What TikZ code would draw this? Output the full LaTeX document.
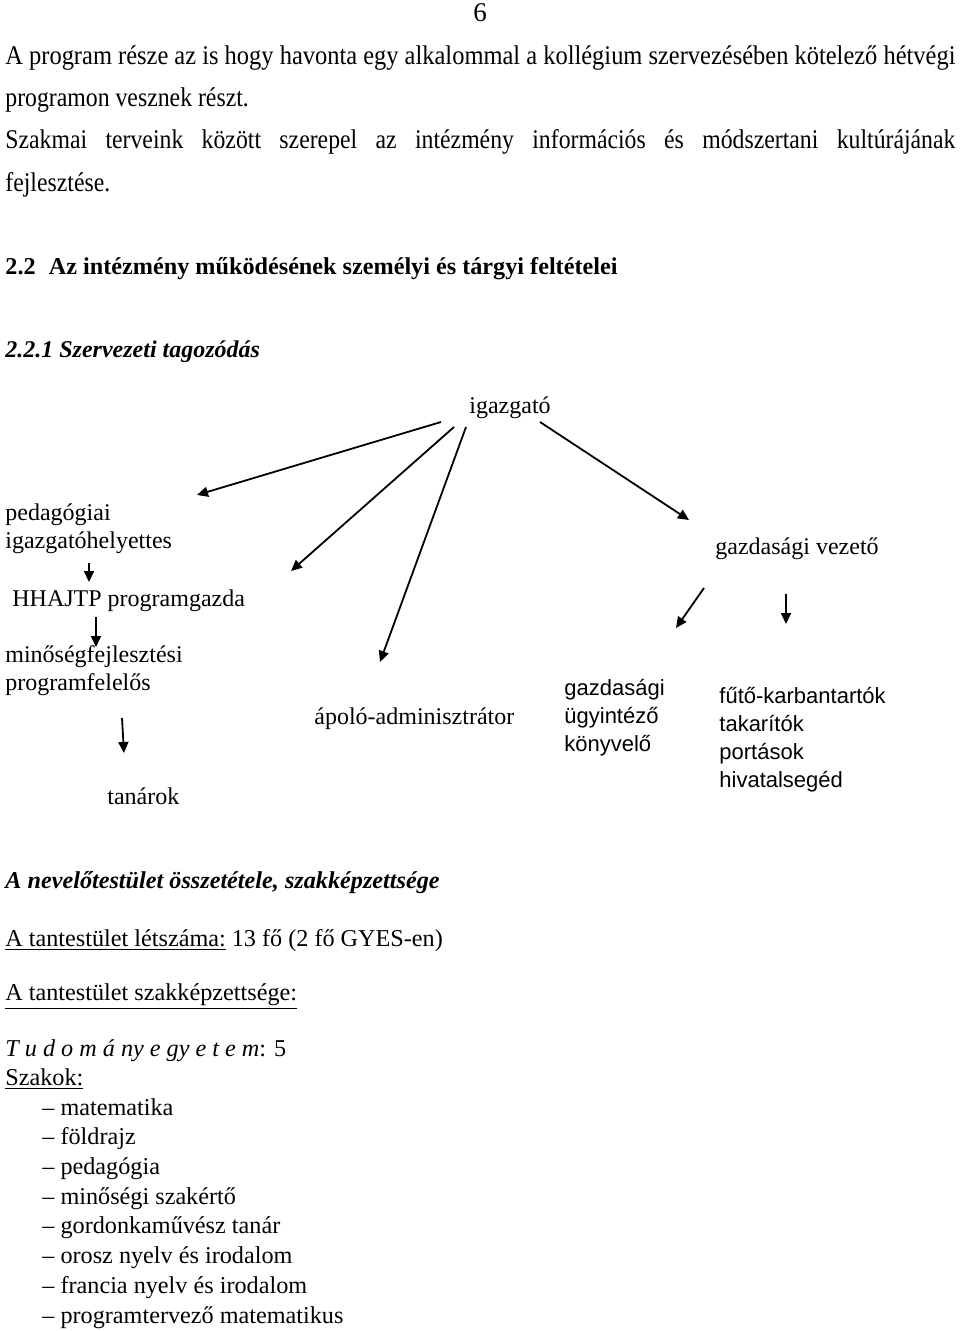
\documentclass[tikz,border=0pt]{standalone}
\usepackage{fontspec}
\setmainfont{Liberation Serif}
\setsansfont{Liberation Sans}
\usetikzlibrary{arrows.meta}

\begin{document}
\begin{tikzpicture}[x=0.5pt,y=-0.5pt]
 \tikzstyle{arrow} = [-{Triangle[length=5.5pt,width=5pt]},line width=0.9pt];
 \tikzstyle{pagetext} = [inner sep=0pt,anchor=base west,font=\fontsize{13.5}{21}\selectfont];
 \tikzstyle{bodytext} = [inner sep=0pt,anchor=base west,align=left,font=\fontsize{12.1}{14.85}\selectfont];
 \tikzstyle{post}   = [inner sep=0pt,anchor=base west,align=left,font=\fontsize{12}{14}\selectfont];
 \tikzstyle{postsf} = [post,font=\sffamily\fontsize{11}{14}\selectfont];

 \useasboundingbox (0,0) rectangle (960,1331);

 %% page text
 \node[pagetext,anchor=base] (pagenum) at (480,22) {6};
 \node[pagetext] (par1a) at (5,65) {\resizebox{475pt}{\height}{A program része az is hogy havonta egy alkalommal a kollégium szervezésében kötelező hétvégi}};
 \node[pagetext] (par1b) at (5,107) {\scalebox{0.88}[1]{programon vesznek részt.}};
 \node[pagetext] (par2a) at (5,149) {\resizebox{475pt}{\height}{\makebox[540pt][s]{Szakmai terveink között szerepel az intézmény információs és módszertani kultúrájának}}};
 \node[pagetext] (par2b) at (5,192) {\scalebox{0.88}[1]{fejlesztése.}};
 \node[bodytext,font=\bfseries\fontsize{12.1}{14}\selectfont] (sec22) at (5,275) {2.2\hspace{0.55em}Az intézmény működésének személyi és tárgyi feltételei};
 \node[bodytext,font=\bfseries\itshape\fontsize{12}{14}\selectfont] (sec221) at (5,358) {2.2.1 Szervezeti tagozódás};

 %% organisation chart (multi-line nodes sit on their last line)
 \node[post] (igazgato) at (469,414) {igazgató};
 \node[post] (pedhely) at (5,548) {pedagógiai\\igazgatóhelyettes};
 \node[post] (hhajtp) at (12,606) {HHAJTP programgazda};
 \node[post] (minoseg) at (5,690) {minőségfejlesztési\\programfelelős};
 \node[post] (tanarok) at (107,804) {tanárok};
 \node[post] (apolo) at (314,724) {ápoló-adminisztrátor};
 \node[post] (gazdvez) at (715,554) {gazdasági vezető};
 \node[postsf] (gazdugy) at (564,751) {gazdasági\\ügyintéző\\könyvelő};
 \node[postsf] (futo) at (719,787) {fűtő-karbantartók\\takarítók\\portások\\hivatalsegéd};

 \coordinate (igL1) at (441,422);  \coordinate (pedT) at (197,495);
 \coordinate (igL2) at (454,427);  \coordinate (hhT) at (291,571);
 \coordinate (igL3) at (466,427);  \coordinate (apT) at (380,662);
 \coordinate (igR) at (540,422);   \coordinate (gvT) at (689,520);
 \coordinate (gvL) at (704,588);   \coordinate (guT) at (676,628);
 \coordinate (gvR) at (786,594);   \coordinate (fuT) at (786,624);
 \coordinate (pedB) at (89,563);   \coordinate (hhA) at (89,582);
 \coordinate (hhB) at (96,617);    \coordinate (miA) at (96,647);
 \coordinate (miB) at (122,718);   \coordinate (taA) at (124,753);

 \draw[arrow] (igL1) -- (pedT);
 \draw[arrow] (igL2) -- (hhT);
 \draw[arrow] (igL3) -- (apT);
 \draw[arrow] (igR) -- (gvT);
 \draw[arrow] (gvL) -- (guT);
 \draw[arrow] (gvR) -- (fuT);
 \draw[arrow] (pedB) -- (hhA);
 \draw[arrow] (hhB) -- (miA);
 \draw[arrow] (miB) -- (taA);

 %% staff
 \node[bodytext,font=\bfseries\itshape\fontsize{12.1}{14}\selectfont] (nevelo) at (5,888) {A nevelőtestület összetétele, szakképzettsége};
 \node[bodytext] (letszam) at (5,946) {\underline{A tantestület létszáma:} 13 fő (2 fő GYES-en)};
 \node[bodytext] (szakkep) at (5,1000) {\underline{A tantestület szakképzettsége:}};
 \node[bodytext] (tudomany) at (5,1056) {\textit{T u d o m á ny e gy e t e m}: 5};
 \node[bodytext] (szakok) at (5,1085) {\underline{Szakok:}};
 \node[bodytext] (szaklista) at (42,1323) {– matematika\\– földrajz\\– pedagógia\\– minőségi szakértő\\– gordonkaművész tanár\\– orosz nyelv és irodalom\\– francia nyelv és irodalom\\– programtervező matematikus};

\end{tikzpicture}
\end{document}
